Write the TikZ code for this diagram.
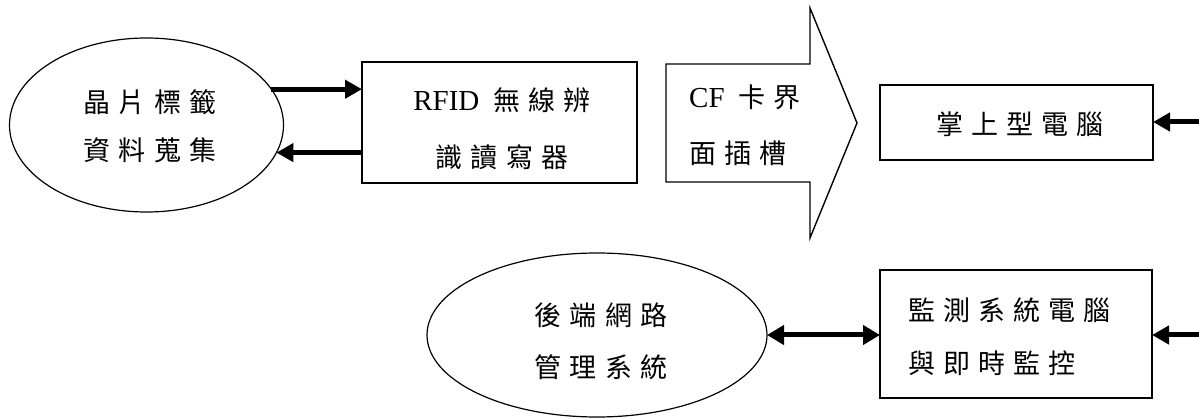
\documentclass[tikz,border=0pt]{standalone}
\usepackage{fontspec}
\setmainfont{Liberation Serif}
\newfontfamily\cjk[LetterSpace=30]{Noto Sans CJK TC}
\usetikzlibrary{shapes.geometric,arrows.meta}
\tikzset{
  shapeline/.style={draw,line width=1.4pt},
  boxnode/.style={shapeline,rectangle,inner sep=0pt,outer sep=0pt},
  ellnode/.style={draw,line width=1.2pt,ellipse,inner sep=0pt,outer sep=0pt},
  lbl/.style={inner sep=0pt,font=\cjk\fontsize{27}{#1}\selectfont},
  arr/.style={line width=5pt,-{Triangle[length=17pt,width=18pt]}},
  dblarr/.style={line width=5pt,{Triangle[length=17pt,width=19pt]}-{Triangle[length=17pt,width=19pt]}}
}
\newcommand{\latin}[1]{{\rmfamily\fontsize{29}{29}\selectfont #1}}
\begin{document}
\begin{tikzpicture}[x=1pt,y=-1pt]
\useasboundingbox[fill=white] (0,0) rectangle (1199,419);
% shapes
\node[ellnode,minimum width=274pt,minimum height=174pt] (e1) at (146.5,125) {};
\node[boxnode,minimum width=275pt,minimum height=121pt] (rfid) at (499.5,122.5) {};
\draw[shapeline] (666,64) coordinate (cfa) -- (810,64) -- (810,8) -- (857,123) coordinate (cftip) -- (810,238) -- (810,182) -- (666,182) -- cycle;
\node[boxnode,minimum width=273pt,minimum height=75pt] (pda) at (1016.5,122.5) {};
\node[ellnode,minimum width=340pt,minimum height=164pt] (e2) at (597,335) {};
\node[boxnode,minimum width=272pt,minimum height=128pt] (mon) at (1016,334) {};
% texts
\node[lbl=48pt,align=center] (t1) at (150,126) {晶片標籤\\資料蒐集};
\node[lbl=57pt,align=center] (t2) at (502,128.5) {\latin{RFID} 無線辨\\識讀寫器};
\node[lbl=56pt,align=left,anchor=west] (t3) at (689,125) {\latin{CF} 卡界\\面插槽};
\node[lbl=27pt] (t4) at (1020,124) {掌上型電腦};
\node[lbl=52pt,align=center] (t5) at (601,341) {後端網路\\管理系統};
\node[lbl=53pt,align=left,anchor=west] (t6) at (908,336.5) {監測系統電腦\\與即時監控};
% connectors
\draw[arr] (e1.16.6) -- (e1.16.6 -| rfid.west);
\draw[arr] (rfid.west |- e1.-12.2) -- (e1.-12.2);
\coordinate (r1) at (1199,122);
\coordinate (r2) at (1199,335);
\draw[arr] (r1) -- (r1 -| pda.east);
\draw[arr] (r2) -- (r2 -| mon.east);
\draw[dblarr] (e2.east) -- (e2.east -| mon.west);
\end{tikzpicture}
\end{document}
